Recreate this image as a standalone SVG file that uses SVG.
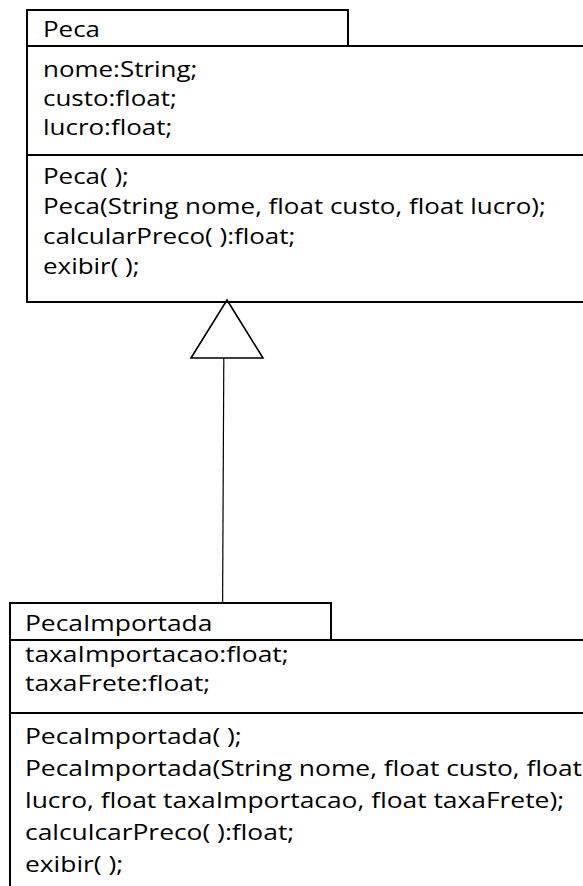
<svg xmlns="http://www.w3.org/2000/svg" width="583" height="886" viewBox="0 0 583 886">
<style>
.b{stroke:#000;stroke-width:2;fill:none;stroke-linecap:square}
.t{font-family:"Open Sans","Noto Sans",sans-serif;font-size:22px;fill:#000}
.c{stroke:#000;stroke-width:1.2;fill:none}
.h{stroke:#000;stroke-width:1.6;fill:#fff;stroke-linejoin:miter}
</style>
<rect width="583" height="886" fill="#fff"/>
<g id="connectors">
<line class="c" x1="223.8" y1="358" x2="222.6" y2="603"/>
<polygon class="h" points="227,300 263,358 191,358"/>
</g>
<g id="Peca">
<path class="b" d="M27,302 V10 H348 V46"/>
<line class="b" x1="27" y1="46" x2="590" y2="46"/>
<line class="b" x1="27" y1="155" x2="590" y2="155"/>
<line class="b" x1="27" y1="302" x2="590" y2="302"/>
<g transform="translate(43 0) scale(1.18 1)">
<text class="t" x="0" y="37">Peca</text>
<text class="t" x="0" y="77">nome:String;</text>
<text class="t" x="0" y="106">custo:float;</text>
<text class="t" x="0" y="135">lucro:float;</text>
<text class="t" x="0" y="184">Peca( );</text>
<text class="t" x="0" y="214">Peca(String nome, float custo, float lucro);</text>
<text class="t" x="0" y="244">calcularPreco( ):float;</text>
<text class="t" x="0" y="274">exibir( );</text>
</g>
</g>
<g id="PecaImportada">
<path class="b" d="M10,890 V603 H331 V640"/>
<line class="b" x1="10" y1="640" x2="590" y2="640"/>
<line class="b" x1="10" y1="713" x2="590" y2="713"/>
<g transform="translate(25 0) scale(1.2 1)">
<text class="t" x="0" y="631">PecaImportada</text>
<text class="t" x="0" y="662">taxaImportacao:float;</text>
<text class="t" x="0" y="691">taxaFrete:float;</text>
<text class="t" x="0" y="744">PecaImportada( );</text>
<text class="t" x="0" y="776">PecaImportada(String nome, float custo, float</text>
<text class="t" x="0" y="808">lucro, float taxaImportacao, float taxaFrete);</text>
<text class="t" x="0" y="840">calculcarPreco( ):float;</text>
<text class="t" x="0" y="872">exibir( );</text>
</g>
</g>
</svg>
